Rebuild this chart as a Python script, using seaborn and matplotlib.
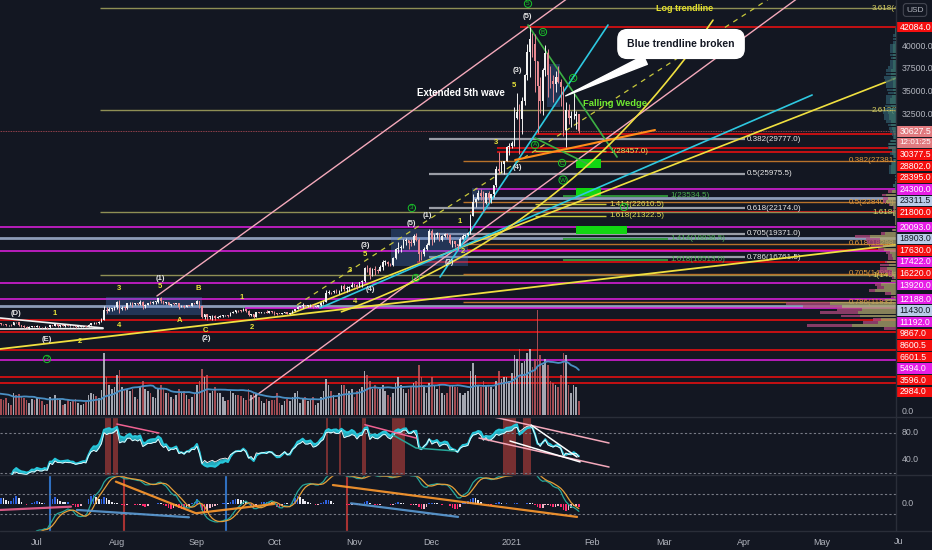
import numpy as np
import pandas as pd
import matplotlib
matplotlib.use('Agg')
import matplotlib.pyplot as plt
from matplotlib.patches import Rectangle
from matplotlib.lines import Line2D
from matplotlib.transforms import Bbox
import seaborn as sns

# ---------------------------------------------------------------- data
START = '2020-06-01'
OPEN_FIRST = 9445.0
close_jun = [10200, 9520, 9665, 9790, 9620, 9670, 9750, 9770, 9780, 9870, 9320, 9480, 9475, 9386, 9450, 9538, 9480, 9411, 9288, 9332, 9303, 9648, 9629, 9313, 9264, 9162, 9045, 9143, 9190, 9137]
high_jun = [10430, 10230, 9680, 9880, 9850, 9720, 9800, 9800, 9880, 9990, 9950, 9545, 9490, 9480, 9530, 9580, 9560, 9480, 9440, 9390, 9410, 9680, 9680, 9670, 9330, 9300, 9180, 9190, 9240, 9200]
low_jun = [9420, 9280, 9400, 9540, 9580, 9600, 9370, 9640, 9550, 9690, 9110, 9280, 9400, 9250, 8990, 9370, 9330, 9290, 9220, 9230, 9280, 9290, 9570, 9210, 9090, 9050, 8980, 8950, 9080, 9100]
vol_jun = [30, 40, 22, 20, 18, 12, 16, 17, 16, 18, 35, 22, 18, 17, 24, 20, 16, 15, 17, 12, 10, 22, 20, 21, 18, 17, 15, 12, 16, 15]

close_jul = [9228, 9092, 9087, 9132, 9073, 9375, 9252, 9428, 9278, 9278, 9240, 9277, 9243, 9243, 9192, 9132, 9151, 9159, 9186, 9165, 9374, 9526, 9581, 9537, 9677, 9905, 10990, 10913, 11100, 11111, 11323]
high_jul = [9290, 9250, 9130, 9180, 9140, 9380, 9380, 9450, 9440, 9310, 9300, 9340, 9350, 9270, 9270, 9210, 9180, 9200, 9230, 9230, 9400, 9540, 9620, 9660, 9730, 10100, 11400, 11270, 11330, 11170, 11440]
low_jul = [9100, 9050, 9050, 9060, 8940, 9060, 9210, 9240, 9150, 9120, 9190, 9150, 9200, 9120, 9160, 9050, 9090, 9130, 9120, 9140, 9150, 9290, 9470, 9460, 9460, 9650, 9880, 10630, 10830, 10840, 10970]
vol_jul = [17, 16, 14, 10, 11, 18, 16, 20, 17, 15, 10, 11, 15, 13, 14, 16, 12, 10, 11, 13, 20, 22, 21, 19, 17, 25, 62, 38, 30, 26, 28]

close_aug = [11815, 11071, 11223, 11196, 11744, 11770, 11601, 11755, 11676, 11879, 11410, 11585, 11784, 11768, 11866, 11912, 12281, 11945, 11754, 11866, 11526, 11681, 11665, 11775, 11365, 11470, 11318, 11531, 11480, 11712, 11681]
high_aug = [12030, 12060, 11470, 11420, 11790, 11900, 11920, 11800, 11800, 12050, 11950, 11620, 11800, 11990, 11970, 11950, 12360, 12450, 11970, 11880, 11880, 11690, 11720, 11810, 11790, 11530, 11580, 11590, 11590, 11720, 11780]
low_aug = [11150, 10700, 11010, 11000, 11100, 11550, 11290, 11530, 11550, 11510, 11140, 11180, 11500, 11660, 11700, 11690, 11800, 11800, 11600, 11680, 11520, 11400, 11570, 11600, 11150, 11300, 11230, 11300, 11480, 11450, 11610]
vol_aug = [40, 45, 28, 25, 26, 24, 26, 18, 16, 28, 34, 26, 24, 22, 18, 17, 26, 30, 27, 22, 22, 18, 16, 20, 26, 22, 24, 20, 16, 18, 22]

close_sep = [11970, 11414, 10245, 10511, 10169, 10280, 10370, 10131, 10242, 10363, 10400, 10443, 10335, 10680, 10797, 10956, 10948, 10933, 11081, 10920, 10418, 10535, 10246, 10756, 10702, 10754, 10775, 10709, 10844, 10785]
high_sep = [12080, 11960, 11440, 10580, 10550, 10360, 10400, 10430, 10330, 10480, 10410, 10480, 10450, 10790, 10920, 11000, 11040, 11010, 11160, 11080, 10990, 10570, 10550, 10790, 10770, 10800, 10800, 10940, 10850, 10850]
low_sep = [11650, 11200, 10140, 9960, 9880, 10050, 9880, 9880, 10120, 10200, 10220, 10330, 10230, 10300, 10640, 10690, 10770, 10800, 10900, 10800, 10360, 10380, 10160, 10200, 10610, 10670, 10640, 10650, 10660, 10700]
vol_sep = [30, 34, 46, 38, 40, 22, 24, 28, 22, 22, 18, 14, 15, 24, 22, 20, 20, 19, 17, 15, 26, 20, 22, 22, 18, 14, 12, 16, 14, 15]

close_oct = [10620, 10570, 10550, 10670, 10786, 10600, 10668, 10925, 11050, 11296, 11384, 11555, 11426, 11430, 11506, 11323, 11369, 11500, 11743, 11917, 12823, 12965, 12931, 13108, 13031, 13075, 13655, 13271, 13437, 13546, 13781]
high_oct = [10930, 10660, 10600, 10690, 10800, 10800, 10690, 10950, 11110, 11480, 11430, 11720, 11550, 11550, 11630, 11550, 11400, 11510, 11820, 11980, 13200, 13150, 13000, 13150, 13330, 13230, 13750, 13850, 13620, 13640, 14080]
low_oct = [10450, 10400, 10500, 10530, 10630, 10530, 10560, 10630, 10840, 11080, 11270, 11250, 11280, 11300, 11280, 11250, 11300, 11340, 11420, 11680, 11900, 12720, 12750, 12890, 12900, 12780, 13060, 13110, 12980, 13130, 13480]
vol_oct = [15, 22, 12, 10, 14, 16, 14, 18, 22, 24, 12, 16, 18, 14, 16, 18, 10, 12, 18, 24, 36, 30, 24, 20, 16, 22, 30, 30, 26, 24, 26]

close_nov = [13737, 13550, 14025, 14146, 15590, 15580, 14833, 15479, 15332, 15290, 15701, 16276, 16318, 16068, 15955, 16716, 17645, 17804, 17817, 18621, 18642, 18370, 18365, 19107, 18733, 17150, 17108, 17717, 18177, 19625]
high_nov = [13860, 13820, 14070, 14250, 15750, 15960, 15770, 15650, 15800, 15460, 15940, 16450, 16450, 16330, 16120, 16790, 17800, 18470, 18100, 18780, 18950, 18680, 18750, 19350, 19400, 18900, 17430, 17860, 18300, 19860]
low_nov = [13560, 13260, 13540, 13570, 14090, 15180, 14380, 14730, 14850, 15100, 15260, 15440, 15980, 15800, 15820, 15820, 16550, 17230, 17380, 17750, 18150, 17650, 18000, 18110, 18570, 16330, 16500, 16880, 17550, 18180]
vol_nov = [18, 24, 26, 28, 44, 40, 34, 26, 30, 26, 26, 30, 24, 20, 18, 22, 32, 38, 30, 26, 22, 26, 28, 32, 34, 50, 38, 28, 22, 32]

close_dec = [18802, 19201, 19445, 18699, 19155, 19346, 19192, 18321, 18553, 18264, 18058, 18803, 19143, 19247, 19417, 21310, 22805, 23137, 23869, 23477, 22745, 23825, 23255, 23716, 24693, 26443, 26246, 27037, 27376, 28857, 28990]
high_dec = [19920, 19300, 19550, 19500, 19180, 19400, 19400, 19290, 18640, 18560, 18280, 18960, 19390, 19310, 19530, 21540, 23770, 23250, 24150, 24280, 24080, 23830, 24080, 23790, 24770, 26870, 28380, 27400, 27390, 28990, 29300]
low_dec = [18150, 18420, 18900, 18620, 18580, 19000, 18930, 18220, 17900, 17930, 17580, 18050, 18760, 18990, 19080, 19320, 21270, 22330, 23100, 23080, 21860, 22600, 22720, 22700, 23460, 24500, 25990, 26050, 25990, 27340, 28000]
vol_dec = [38, 30, 26, 30, 22, 20, 22, 30, 30, 28, 28, 22, 20, 22, 24, 44, 52, 40, 30, 28, 34, 30, 30, 28, 26, 34, 44, 36, 38, 38, 34]

close_jan = [29375, 32127, 32782, 31971, 33992, 36824, 39371, 40797, 40254, 38356, 35566, 33922, 37316, 39187, 36825, 36178, 35792, 36630, 36070, 35547, 30826, 33005, 32067, 32289, 32366, 32570, 30627.5]
high_jan = [29600, 33300, 34800, 33600, 34440, 36880, 40180, 42084, 41380, 41350, 38250, 36600, 37600, 40100, 39700, 37860, 36800, 37300, 37850, 36400, 35560, 33800, 33580, 32900, 34800, 32890, 32560]
low_jan = [28800, 29030, 32000, 28130, 30300, 33500, 36300, 36570, 38750, 35000, 30420, 32600, 32400, 36750, 34400, 35400, 33900, 34900, 35900, 33400, 30070, 28950, 31460, 31050, 31950, 30900, 30400]
vol_jan = [42, 60, 56, 66, 52, 54, 62, 66, 48, 56, 105, 60, 50, 56, 50, 34, 32, 30, 28, 40, 62, 60, 30, 22, 30, 28, 14]

closes = close_jun + close_jul + close_aug + close_sep + close_oct + close_nov + close_dec + close_jan
highs = high_jun + high_jul + high_aug + high_sep + high_oct + high_nov + high_dec + high_jan
lows = low_jun + low_jul + low_aug + low_sep + low_oct + low_nov + low_dec + low_jan
volumes = vol_jun + vol_jul + vol_aug + vol_sep + vol_oct + vol_nov + vol_dec + vol_jan

CURRENT_PRICE = 30627.5
COUNTDOWN = '12:01:25'

# horizontal support / resistance levels: (price, kind, first day drawn)
levels_price = [42084, 30377.5, 28802, 28395, 24300, 23311.5, 21800, 20093, 18903, 17630, 17422,
                16220, 13920, 12188, 11430, 11192, 9867, 8600.5, 6601.5, 5494, 3596, 2984]
levels_kind = ['red', 'red', 'red', 'red', 'mag', 'blue', 'red', 'mag', 'blue', 'red', 'mag',
               'red', 'mag', 'mag', 'blue', 'mag', 'red', 'red', 'red', 'mag', 'red', 'red']
levels_start = [187.2, 193, 178.3, 178.3, 169.8, 169, 167.8, -20, -20, 166.7, -20,
                147.3, -20, -20, -20, 80.6, -20, -20, -20, -20, -20, -20]

# fibonacci tools (ratio, price)
fib_ext_ratio = [3.618, 2.618, 1.618, 1]
fib_ext_price = [44180, 32970, 21760, 14832]
fib_org_ratio = [0.382, 0.5, 0.618, 0.705, 0.786]
fib_org_price = [27381.5, 22840, 18298, 14950, 11832.5]
fib_gry_ratio = [0.382, 0.5, 0.618, 0.705, 0.786]
fib_gry_price = [29777, 25975.5, 22174, 19371, 16761.5]
fib_yel_ratio = [1, 1.414, 1.618]
fib_yel_price = [28457, 22610.5, 21322.5]
fib_grn_ratio = [1, 1.414, 1.618]
fib_grn_price = [23534.5, 18838.5, 16513]

# RSI overbought highlight periods (days since 2020-07-01)
rsi_band_start = [26.4, 29.5, 111.9, 117.0, 125.8, 137.7, 180.6, 188.4]
rsi_band_end = [28.8, 31.3, 112.9, 117.7, 127.6, 142.8, 185.7, 191.5]

# ---------------------------------------------------------------- style
sns.set_theme(style='dark')
BG = '#131722'
plt.rcParams['font.family'] = ['Liberation Sans', 'DejaVu Sans']
plt.rcParams['axes.facecolor'] = BG
plt.rcParams['figure.facecolor'] = BG

RED = '#f50f0f'
MAG = '#e41ee4'
LBLUE = '#8d9cb8'
UPC = '#f2f2f2'
DNC = '#e88a92'
GRAY_TXT = '#b2b5be'
KIND_COLOR = {'red': RED, 'mag': MAG, 'blue': LBLUE}

n = min(len(closes), len(highs), len(lows), len(volumes))
dates = pd.date_range(START, periods=n, freq='D')
REF = pd.Timestamp('2020-07-01')
xd = ((dates - REF) / pd.Timedelta(days=1)).values.astype(float)
c = np.array(closes[:n], dtype=float)
o = np.r_[OPEN_FIRST, c[:-1]]
h = np.maximum(np.array(highs[:n], dtype=float), np.maximum(o, c))
l = np.minimum(np.array(lows[:n], dtype=float), np.minimum(o, c))
v = np.array(volumes[:n], dtype=float)
up = c >= o

XLIM = (-14.3, 332.9)
YLIM = (-770, 45060)

W, H = 932, 550
fig = plt.figure(figsize=(W / 100, H / 100), dpi=100)
fig.patch.set_facecolor(BG)


def px_axes(x0, y0, x1, y1, face=BG):
    a = fig.add_axes([x0 / W, 1 - y1 / H, (x1 - x0) / W, (y1 - y0) / H])
    a.set_facecolor(face)
    for s in a.spines.values():
        s.set_visible(False)
    a.grid(False)
    return a


ax = px_axes(0, 0, 896, 417)
ax_rsi = px_axes(0, 417, 896, 475)
ax_w = px_axes(0, 475, 896, 531)

# ---------------------------------------------------------------- main panel
for p, k, s in zip(levels_price, levels_kind, levels_start):
    lw = 2.0 if k == 'blue' else 1.1
    ax.plot([s, XLIM[1] + 5], [p, p], color=KIND_COLOR[k], lw=lw, zorder=1, solid_capstyle='butt')

ax.plot([XLIM[0] - 5, XLIM[1] + 5], [CURRENT_PRICE, CURRENT_PRICE], color='#c0505a', lw=0.6, ls=(0, (1, 1)), zorder=1)


def fib_group(ratios, prices, d0, d1, col, lab_day, lab_col, lw=1.0, fs=5.8):
    for r, p in zip(ratios, prices):
        ax.plot([d0, d1], [p, p], color=col, lw=lw, zorder=2, solid_capstyle='butt')
        ax.text(lab_day, p, f"{r:g}({p:.1f})", color=lab_col, fontsize=fs, va='center', ha='left',
                zorder=3, clip_on=True)


fib_group(fib_ext_ratio, fib_ext_price, 24.4, XLIM[1] + 5, '#8f8f55', 323.6, '#d8cf62')
fib_group(fib_org_ratio, fib_org_price, 165.1, XLIM[1] + 5, '#b8722a', 314.7, '#e39a3c')
fib_group(fib_gry_ratio, fib_gry_price, 151.9, 274.4, '#9a9da6', 275.2, '#e8e8e8', lw=1.6)
fib_group(fib_yel_ratio, fib_yel_price, 193.0, 220.5, '#c9c93c', 221.7, '#e6e25a')
fib_group(fib_grn_ratio, fib_grn_price, 203.9, 244.6, '#2f9a3a', 245.3, '#4caf50', lw=1.3)

# boxes
for (d, p, wd, ht) in [(26.7, 10440, 37.3, 1979), (137.2, 15826, 29.8, 4066),
                       (168.6, 21980, 7.0, 2418), (197.7, 33300, 5.0, 4725)]:
    ax.add_patch(Rectangle((d, p), wd, ht, fc='#4a7bd0', ec='none', alpha=0.3, zorder=2))
for (d, p, wd, ht) in [(208.9, 26596, 9.7, 989), (208.9, 23519, 9.7, 879), (208.9, 19342, 19.8, 880)]:
    ax.add_patch(Rectangle((d, p), wd, ht, fc='#12d612', ec='none', zorder=3))

# trend lines
trend = [
    ([46.5, 215], [12530, 47170], '#f4a9bb', '-', 1.0),
    ([82.6, 300], [1100, 46340], '#f4a9bb', '-', 1.0),
    ([100.8, 290], [11540, 46350], '#c8c83c', (0, (4, 4)), 0.9),
    ([-14.3, 333], [6704, 18134], '#f0e040', '-', 1.3),
    ([98.1, 333], [10550, 36487], '#f0e040', '-', 1.2),
    ([156.2, 221.3], [14617, 42311], '#2ec8e0', '-', 1.2),
    ([109.7, 300.4], [11210, 34619], '#2ec8e0', '-', 1.2),
    ([190.3, 224.8], [42311, 27805], '#3cb043', '-', 1.2),
    ([193.0, 214.3], [29893, 26926], '#3cb043', '-', 1.2),
    ([185.3, 239.5], [27475, 30772], '#ff8c1a', '-', 1.5),
    ([-14.3, 25.6], [10111, 9012], '#f0f0f0', '-', 1.2),
    ([-14.3, 25.6], [8900, 8950], '#f0f0f0', '-', 1.2),
]
for xs, ys, col, ls, lw in trend:
    ax.plot(xs, ys, color=col, ls=ls, lw=lw, zorder=3)

# log trendline (straight on log scale -> curved here)
TA, PA, TB, PB = 140.7, 13408, 207.8, 25497
tt = np.linspace(118, 262, 200)
ax.plot(tt, PA * (PB / PA) ** ((tt - TA) / (TB - TA)), color='#f0e040', lw=1.2, zorder=3)

# candles
cols = np.where(up, UPC, DNC)
ax.vlines(xd, l, h, colors=cols, lw=0.7, zorder=5)
ax.bar(xd, np.maximum(np.abs(c - o), 70), bottom=np.minimum(o, c), width=0.62, color=cols,
       linewidth=0, zorder=6)

# wave labels
W_ = '#e6e6e6'
Y_ = '#e8e43a'
G_ = '#19c42a'
waves = [
    (-8.1, 10660, '(D)', W_), (7.0, 10660, '1', Y_), (3.9, 7693, '(E)', W_), (16.7, 7473, '2', Y_),
    (31.8, 13298, '3', Y_), (31.8, 9232, '4', Y_), (47.7, 14397, '(1)', W_), (47.7, 13518, '5', Y_),
    (62.4, 13298, 'B', Y_), (55.4, 9781, 'A', Y_), (65.5, 8682, 'C', Y_), (65.5, 7803, '(2)', W_),
    (79.5, 12309, '1', Y_), (83.3, 9012, '2', Y_), (123.3, 11869, '4', Y_), (127.1, 18024, '(3)', W_),
    (127.1, 17144, '5', Y_), (121.3, 15276, '3', Y_), (129.1, 13188, '(4)', W_), (151.2, 21321, '(1)', W_),
    (145.3, 20551, '(5)', W_), (164.0, 20771, '1', Y_), (165.1, 17474, '2', Y_), (159.7, 16265, '(2)', W_),
    (189.9, 43301, '(5)', W_), (186.0, 37366, '(3)', W_), (184.9, 35718, '5', Y_), (177.9, 29453, '3', Y_),
    (186.0, 26706, '(4)', W_),
]
for d, p, t, col in waves:
    ax.text(d, p, t, color=col, fontsize=5.5, ha='center', va='center', fontweight='bold', zorder=7)
circled = [(3.9, 5605, '2'), (145.3, 22200, '3'), (146.9, 14507, '4'), (190.3, 44650, '5'),
           (196.1, 41542, 'B'), (207.8, 36487, 'X'), (193.0, 29124, 'A'), (203.5, 27145, 'C'),
           (203.9, 25277, 'W'), (227.5, 22310, 'Y')]
for d, p, t in circled:
    ax.text(d, p, t, color=G_, fontsize=4.6, ha='center', va='center', zorder=7,
            bbox=dict(boxstyle='circle,pad=0.18', fc='none', ec=G_, lw=0.7))

ax.text(164.3, 34838, 'Extended 5th wave', color='white', fontsize=7, fontweight='bold',
        ha='center', va='center', zorder=7)
ax.text(224.0, 33739, 'Falling Wedge', color='#6fe830', fontsize=6.8, fontweight='bold',
        ha='center', va='center', zorder=7)
ax.text(250.8, 44180, 'Log trendline', color='#e6e22e', fontsize=6.5, fontweight='bold',
        ha='center', va='center', zorder=7)
ax.annotate('Blue trendline broken', xy=(203.9, 34399), xytext=(249.6, 40223), fontsize=7.5,
            fontweight='bold', color='#131722', ha='center', va='center', zorder=9,
            bbox=dict(boxstyle='round,pad=0.9', fc='white', ec='white'),
            arrowprops=dict(arrowstyle='wedge,tail_width=0.9,shrink_factor=0.5', fc='white', ec='white'))

ax.set_xlim(XLIM)
ax.set_ylim(YLIM)
ax.set_xticks([])
ax.set_yticks([])

# volume overlay
axv = ax.twinx()
axv.bar(xd, v, width=0.62, color=np.where(up, '#c9ccd6', '#c85a60'), alpha=0.8, linewidth=0, zorder=2)
volma = pd.Series(v).rolling(20, min_periods=1).mean().values
sns.lineplot(x=xd, y=volma, ax=axv, color='#4a8fc4', lw=1.3, legend=False)
axv.set_ylim(-2, 415)
axv.set_xlim(XLIM)
axv.set_yticks([])
axv.set_xticks([])
axv.set_ylabel('')
for s in axv.spines.values():
    s.set_visible(False)

# visible range volume profile
bins = np.arange(0, 46000, 350)
vp_up = np.zeros(len(bins) - 1)
vp_dn = np.zeros(len(bins) - 1)
mids = (bins[:-1] + bins[1:]) / 2
for i in range(n):
    if xd[i] < XLIM[0]:
        continue
    m = (mids >= l[i]) & (mids <= h[i])
    if not m.any():
        m = np.abs(mids - c[i]) == np.abs(mids - c[i]).min()
    share = v[i] / m.sum()
    if up[i]:
        vp_up[m] += share
    else:
        vp_dn[m] += share
axp = px_axes(0, 0, 896, 417, face='none')
tot = vp_up + vp_dn
hi = mids > 24000
axp.barh(mids, vp_up, height=300, color=np.where(hi, '#3f7f7a', '#ada56c'), alpha=0.75, linewidth=0)
axp.barh(mids, vp_dn, left=vp_up, height=300, color=np.where(hi, '#2d5868', '#b0487e'), alpha=0.75,
         linewidth=0)
axp.set_xlim(tot.max() * 896 / 110, 0)
axp.set_ylim(YLIM)
axp.set_xticks([])
axp.set_yticks([])

# ---------------------------------------------------------------- RSI panel


def rsi(src, length=14):
    s = pd.Series(src)
    d = s.diff()
    au = d.clip(lower=0).ewm(alpha=1 / length, adjust=False, min_periods=length).mean()
    ad = (-d.clip(upper=0)).ewm(alpha=1 / length, adjust=False, min_periods=length).mean()
    return (100 - 100 / (1 + au / ad)).values


hlc3 = (h + l + c) / 3
r_close = rsi(c)
r_hlc = rsi(hlc3)
for a0, a1 in zip(rsi_band_start, rsi_band_end):
    ax_rsi.axvspan(a0, a1, color='#8a3434', alpha=0.85, lw=0, zorder=1)
for lv in (80, 20):
    ax_rsi.axhline(lv, color='#787b86', lw=0.8, ls=(0, (2, 2)), zorder=1)
ax_rsi.fill_between(xd, r_close, r_hlc, color='#26c6da', alpha=0.85, lw=0, zorder=2)
sns.lineplot(x=xd, y=r_hlc, ax=ax_rsi, color='#26c6da', lw=1.5, legend=False, zorder=3)
sns.lineplot(x=xd, y=r_close, ax=ax_rsi, color='white', lw=0.6, legend=False, zorder=4)
rsi_ann = [
    ([31, 47.3], [93, 79.5], '#f06292'), ([127.1, 146.9], [92, 72], '#f06292'),
    ([138, 146.9, 162], [76.5, 57, 52.5], '#26a69a'),
    ([177.1, 221.7], [103.6, 64.5], '#f4a9bb'), ([171.3, 221.7], [72, 28.4], '#f4a9bb'),
    ([183.3, 210.5], [67.5, 36], 'white'), ([191.5, 209.3], [91.6, 43.5], 'white'),
]
for xs, ys, col in rsi_ann:
    ax_rsi.plot(xs, ys, color=col, lw=1.1, zorder=5)
ax_rsi.set_xlim(XLIM)
ax_rsi.set_ylim(16.4, 103.6)
ax_rsi.set_xticks([])
ax_rsi.set_yticks([])
ax_rsi.set_xlabel('')
ax_rsi.set_ylabel('')

# ---------------------------------------------------------------- wave-trend panel


def ema(x, span):
    return pd.Series(x).ewm(span=span, adjust=False).mean().values


esa = ema(hlc3, 10)
dev = ema(np.abs(hlc3 - esa), 10)
ci = (hlc3 - esa) / (0.015 * dev)
wt1 = ema(ci, 21)
wt2 = pd.Series(wt1).rolling(4, min_periods=1).mean().values
hist = wt1 - wt2
prev = np.r_[0, hist[:-1]]
hcol = np.where(hist >= 0, np.where(hist >= prev, '#2f62e0', '#e8e8f0'),
                np.where(hist < prev, '#ff2a6d', '#f5b8c8'))
for dv, col in [(5.0, '#2f6fbf'), (33.7, '#a83232'), (73.4, '#2f6fbf'), (120.0, '#a83232')]:
    ax_w.axvline(dv, color=col, lw=1.5, zorder=1)
for lv in (26, -26):
    ax_w.axhline(lv, color='#787b86', lw=0.8, ls=(0, (2, 2)), zorder=1)
ax_w.bar(xd, hist, width=0.62, color=hcol, linewidth=0, zorder=2)
sns.lineplot(x=xd, y=wt1, ax=ax_w, color='#26a69a', lw=0.9, legend=False, zorder=3)
sns.lineplot(x=xd, y=wt2, ax=ax_w, color='#e6a03a', lw=0.9, legend=False, zorder=3)
w_ann = [
    ([30.6, 61.6, 91.9], [57.8, -24, 0], '#ff9a2e', 1.6),
    ([-14.3, 13.2], [-15.5, -7], '#f06292', 1.6),
    ([15.5, 58.9], [-15.5, -34.5], '#5b9bd5', 1.6),
    ([114.7, 209.3], [49, -33.5], '#ff9a2e', 1.6),
    ([121.7, 163.2], [1.7, -33.5], '#5b9bd5', 1.6),
]
for xs, ys, col, lw in w_ann:
    ax_w.plot(xs, ys, color=col, lw=lw, alpha=0.9, zorder=4)
ax_w.set_xlim(XLIM)
ax_w.set_ylim(-70, 75)
ax_w.set_yticks([])
ax_w.set_ylabel('')
ax_w.set_xlabel('')

months = pd.date_range('2020-07-01', '2021-05-01', freq='MS')
mdays = ((months - REF) / pd.Timedelta(days=1)).values
mlabels = ['2021' if m.month == 1 else m.strftime('%b') for m in months]
ax_w.set_xticks(mdays)
ax_w.set_xticklabels(mlabels, color=GRAY_TXT, fontsize=6.5)
ax_w.tick_params(axis='x', length=0, pad=5)
jun = (pd.Timestamp('2021-06-01') - REF) / pd.Timedelta(days=1)
tj = ax_w.text(jun, -0.19, 'Jun', transform=ax_w.get_xaxis_transform(), color=GRAY_TXT,
               fontsize=6.5, ha='center', va='center', clip_on=True)
tj.set_clip_box(Bbox([[0, 0], [902, 550]]))

# ---------------------------------------------------------------- separators
sep = '#2a2e39'
for yy in (417, 475, 531):
    fig.add_artist(Line2D([0, 1], [1 - yy / H, 1 - yy / H], color=sep, lw=1))
fig.add_artist(Line2D([896 / W, 896 / W], [1 - 531 / H, 1], color=sep, lw=1))

# ---------------------------------------------------------------- right price scale
fig.canvas.draw()


def ypix(axis, val):
    return H - axis.transData.transform((0, val))[1]


for tv in np.arange(32500, 40001, 2500):
    fig.text(902 / W, 1 - ypix(ax, tv) / H, f"{tv:.1f}", color=GRAY_TXT, fontsize=6.3,
             va='center', ha='left')

label_vals = [levels_price[0], CURRENT_PRICE, CURRENT_PRICE] + levels_price[1:]
label_text = [f"{levels_price[0]:.1f}", f"{CURRENT_PRICE:.1f}", COUNTDOWN] + [f"{p:.1f}" for p in levels_price[1:]]
label_kind = [levels_kind[0], 'cur', 'cur'] + levels_kind[1:]
box_fc = {'red': '#f50f0f', 'mag': '#e61ee6', 'blue': '#b9cbe8', 'cur': '#e17a7f'}
box_tc = {'red': 'white', 'mag': 'white', 'blue': '#131722', 'cur': 'white'}
LH = 11.6
prev_y = -100
for val, txt, kd in zip(label_vals, label_text, label_kind):
    yy = max(ypix(ax, val), prev_y + LH)
    prev_y = yy
    fig.add_artist(Rectangle((897 / W, 1 - (yy + LH / 2 - 0.6) / H), 35 / W, (LH - 1.2) / H,
                             transform=fig.transFigure, fc=box_fc[kd], ec='none'))
    fs = 5.9 if txt == COUNTDOWN else 6.3
    fig.text(899.5 / W, 1 - yy / H, txt, color=box_tc[kd], fontsize=fs, va='center', ha='left')

fig.text(902 / W, 1 - (ypix(axv, 0) - 4) / H, '0.0', color=GRAY_TXT, fontsize=6.3, va='center', ha='left')
for rv in (80, 40):
    fig.text(902 / W, 1 - ypix(ax_rsi, rv) / H, f"{rv:.1f}", color=GRAY_TXT, fontsize=6.3,
             va='center', ha='left')
fig.text(902 / W, 1 - ypix(ax_w, 0) / H, '0.0', color=GRAY_TXT, fontsize=6.3, va='center', ha='left')
fig.text(915 / W, 1 - 10 / H, 'USD', color=GRAY_TXT, fontsize=6, va='center', ha='center',
         bbox=dict(boxstyle='round,pad=0.35', fc=BG, ec='#434651', lw=0.8))

fig.savefig('out.png', dpi=100, facecolor=BG)
